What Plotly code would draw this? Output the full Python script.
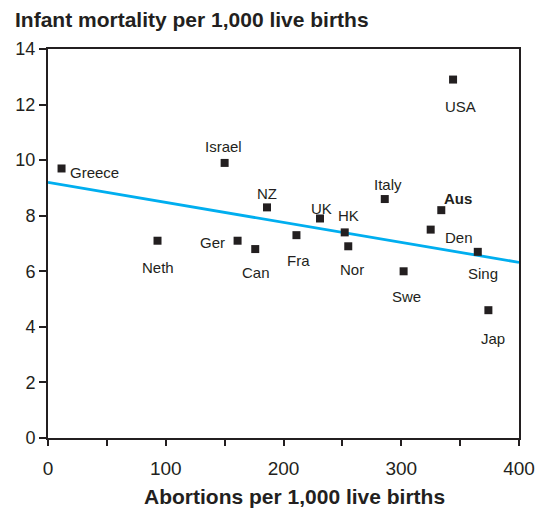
import plotly.graph_objects as go

countries = ["Greece", "Neth", "Israel", "Ger", "Can", "NZ", "Fra", "UK", "HK", "Nor",
             "Italy", "Swe", "Den", "Aus", "USA", "Sing", "Jap"]
abortions = [11.5, 93, 150, 161, 176, 186, 211, 231, 252, 255,
             286, 302, 325, 334, 344, 365, 374]
infant_mortality = [9.7, 7.1, 9.9, 7.1, 6.8, 8.3, 7.3, 7.9, 7.4, 6.9,
                    8.6, 6.0, 7.5, 8.2, 12.9, 6.7, 4.6]

trend_x = [0, 400]
trend_y = [9.2, 6.32]

x_ticks = [0, 100, 200, 300, 400]
y_ticks = [0, 2, 4, 6, 8, 10, 12, 14]

# label offsets in pixels (dx, dy) relative to the marker
label_offsets = {
    "Greece": (33, -4), "Neth": (0, -27), "Israel": (-1, 16), "Ger": (-25, -2),
    "Can": (1, -23), "NZ": (0, 14), "Fra": (2, -25), "UK": (1, 10), "HK": (4, 17),
    "Nor": (4, -23), "Italy": (3, 15), "Swe": (3, -25), "Den": (28, -8),
    "Aus": (17, 12), "USA": (7, -27), "Sing": (5, -22), "Jap": (5, -28),
}

TXT = "#231f20"
FONT = "Liberation Sans, Arial, sans-serif"

# the page body has an 8px margin, so the figure is drawn 8px in from the top-left
W, H = 536, 500

fig = go.Figure()
fig.add_trace(go.Scatter(x=trend_x, y=trend_y, mode="lines",
                         line=dict(color="#00aeef", width=2.8),
                         hoverinfo="skip", showlegend=False, cliponaxis=False))
fig.add_trace(go.Scatter(x=abortions, y=infant_mortality, mode="markers",
                         marker=dict(symbol="square", size=8, color=TXT),
                         text=countries, showlegend=False))

for c, xv, yv in zip(countries, abortions, infant_mortality):
    dx, dy = label_offsets[c]
    label = f"<b>{c}</b>" if c == "Aus" else c
    fig.add_annotation(x=xv, y=yv, text=label, showarrow=False,
                       xshift=dx, yshift=dy, xanchor="center", yanchor="middle",
                       font=dict(family=FONT, size=15, color=TXT))

# x-axis title (slightly right of the plot centre, as in the original)
fig.add_annotation(x=0.5, y=0, xref="paper", yref="paper",
                   text="<b>Abortions per 1,000 live births</b>", showarrow=False,
                   xanchor="center", yanchor="middle", xshift=11, yshift=-58,
                   font=dict(family=FONT, size=21, color=TXT))

fig.update_layout(
    width=W, height=H,
    margin=dict(l=40, r=25, t=41, b=70, autoexpand=False),
    paper_bgcolor="white", plot_bgcolor="white",
    font=dict(family=FONT, color=TXT),
    title=dict(text="<b>Infant mortality per 1,000 live births</b>",
               x=7 / W, xanchor="left", xref="container",
               y=1 - 12 / H, yanchor="middle", yref="container",
               automargin=False,
               font=dict(family=FONT, size=21, color=TXT)),
)
fig.update_xaxes(range=[0, 400], tickvals=x_ticks, ticks="outside", ticklen=6,
                 tickwidth=1.5, tickcolor=TXT, automargin=False, ticklabelstandoff=6,
                 minor=dict(dtick=50, ticks="outside", ticklen=6, tickwidth=1.5, tickcolor=TXT),
                 showline=True, linecolor=TXT, linewidth=2, mirror=True,
                 showgrid=False, zeroline=False,
                 tickfont=dict(family=FONT, size=19, color=TXT))
fig.update_yaxes(range=[0, 14], tickvals=y_ticks, ticks="outside", ticklen=7,
                 tickwidth=1.5, tickcolor=TXT, automargin=False,
                 showline=True, linecolor=TXT, linewidth=2, mirror=True,
                 showgrid=False, zeroline=False,
                 tickfont=dict(family=FONT, size=18, color=TXT))

fig.write_html("out.html")
